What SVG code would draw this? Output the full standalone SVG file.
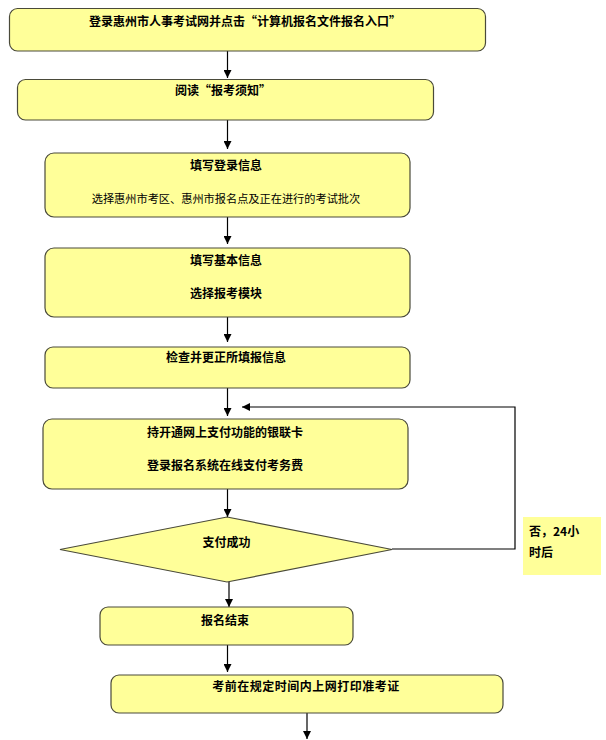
<svg xmlns="http://www.w3.org/2000/svg" width="606" height="740" viewBox="0 0 606 740">
<style>
.box{fill:#FFFF99;stroke:#4a4a3a;stroke-width:1.2}
.t{font-family:"Noto Sans CJK SC","Liberation Sans",sans-serif;font-size:12px;font-weight:bold;fill:#000;text-anchor:middle}
.r{font-family:"Noto Sans CJK SC","Liberation Sans",sans-serif;font-size:11.2px;font-weight:normal;fill:#000;text-anchor:middle}
.l{font-family:"Noto Sans CJK SC","Liberation Sans",sans-serif;font-size:12px;font-weight:bold;fill:#000}
.c{stroke:#000;stroke-width:1.2;fill:none;marker-end:url(#ah)}
</style>
<defs>
<marker id="ah" markerWidth="8" markerHeight="8" refX="8" refY="4" orient="auto" markerUnits="userSpaceOnUse">
<path d="M0,0 L8,4 L0,8 Z" fill="#000"/>
</marker>
</defs>
<rect width="606" height="740" fill="#fff"/>
<g id="connectors">
<line class="c" x1="227.5" y1="51" x2="227.5" y2="78"/>
<line class="c" x1="227.5" y1="120" x2="227.5" y2="149"/>
<line class="c" x1="227.5" y1="217" x2="227.5" y2="244"/>
<line class="c" x1="227.5" y1="317" x2="227.5" y2="342"/>
<line class="c" x1="227.5" y1="388" x2="227.5" y2="416"/>
<line class="c" x1="227.5" y1="489" x2="227.5" y2="517"/>
<line class="c" x1="229" y1="582" x2="229" y2="607"/>
<line class="c" x1="227.5" y1="645" x2="227.5" y2="672"/>
<line class="c" x1="307" y1="713" x2="307" y2="739"/>
<polyline class="c" points="392,549 515,549 515,407 242,407"/>
</g>
<g id="n1"><rect class="box" x="9.5" y="8.5" width="476" height="42.5" rx="8"/><text class="t" x="245" y="26">登录惠州市人事考试网并点击“计算机报名文件报名入口”</text></g>
<g id="n2"><rect class="box" x="17.5" y="79.5" width="416" height="40.5" rx="8"/><text class="t" x="223" y="95">阅读“报考须知”</text></g>
<g id="n3"><rect class="box" x="45" y="153" width="365" height="64" rx="9"/><text class="t" x="226" y="170">填写登录信息</text><text class="r" x="226" y="203">选择惠州市考区、惠州市报名点及正在进行的考试批次</text></g>
<g id="n4"><rect class="box" x="45" y="248" width="365" height="69" rx="9"/><text class="t" x="226" y="265">填写基本信息</text><text class="t" x="226" y="298">选择报考模块</text></g>
<g id="n5"><rect class="box" x="45" y="347" width="365" height="41" rx="8"/><text class="t" x="226" y="362">检查并更正所填报信息</text></g>
<g id="n6"><rect class="box" x="43" y="419" width="365" height="70" rx="9"/><text class="t" x="225" y="437">持开通网上支付功能的银联卡</text><text class="t" x="225" y="470">登录报名系统在线支付考务费</text></g>
<g id="n7"><polygon class="box" points="227,517 392,549.5 227,582 60,549.5"/><text class="t" x="226.5" y="547">支付成功</text></g>
<g id="label"><rect x="523" y="517" width="78" height="58" fill="#FFFF99"/><text class="l" x="529" y="536">否，24小</text><text class="l" x="529" y="557">时后</text></g>
<g id="n8"><rect class="box" x="100" y="607" width="253" height="38" rx="8"/><text class="t" x="225" y="625">报名结束</text></g>
<g id="n9"><rect class="box" x="111" y="675" width="392" height="38" rx="8"/><text class="t" x="306" y="691" letter-spacing="0.5">考前在规定时间内上网打印准考证</text></g>
</svg>
